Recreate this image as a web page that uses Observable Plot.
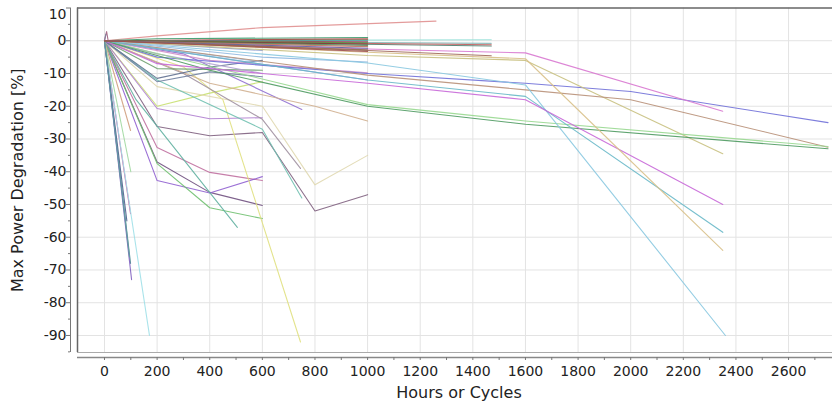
<!DOCTYPE html>
<html><head><meta charset="utf-8">
<script src="https://cdn.jsdelivr.net/npm/d3@7"></script>
<script src="https://cdn.jsdelivr.net/npm/@observablehq/plot@0.6"></script>
<style>body{margin:0;background:#fff;}</style>
</head><body><div id="chart"></div>
<script>
// ---- tick labels ----
const xTicks = [0,200,400,600,800,1000,1200,1400,1600,1800,2000,2200,2400,2600];
const xMinorTicks = [0,100,200,300,400,500,600,700,800,900,1000,1100,1200,1300,1400,1500,1600,1700,1800,1900,2000,2100,2200,2300,2400,2500,2600,2700];
const yTicks = [-90,-80,-70,-60,-50,-40,-30,-20,-10,0];
const yTopTick = [10];
const yMinorTicks = [-95,-85,-75,-65,-55,-45,-35,-25,-15,-5,5];

// ---- series: [hours, degradation %] points ----
const longRuns = [
  [[0,0],[200,-5],[1000,-10],[1600,-13],[2000,-15.5],[2750,-25]],
  [[0,0],[1000,-2.5],[1600,-3.7],[2350,-21.5]],
  [[0,0],[1000,-4.5],[1600,-6],[2350,-34.5]],
  [[0,0],[1000,-10.5],[1600,-15],[2000,-18],[2750,-32.5]],
  [[0,0],[1000,-19.5],[1600,-24.5],[2750,-32.3]],
  [[0,0],[400,-9],[1000,-20],[1600,-25.5],[2750,-33]],
  [[0,0],[1000,-6.8],[1600,-13.5],[2360,-90]],
  [[0,0],[1000,-12],[1600,-17],[2350,-58.5]],
  [[0,0],[200,-7],[1000,-13],[1600,-18],[2350,-50]],
  [[0,0],[1000,-3.5],[1600,-5.5],[2350,-64]]
];
const runsTo1470 = [
  [[0,0],[1470,0.3]],
  [[0,0],[1470,-0.8]],
  [[0,0],[1470,-1.6]],
  [[0,0],[1000,-3],[1470,-4.6]],
  [[0,0],[1470,-1.2]]
];
const band1000 = [
  [[0,0],[200,0.6],[1000,1.0]],
  [[0,0],[1000,0.6]],
  [[0,0],[1000,0.3]],
  [[0,0],[1000,0]],
  [[0,0],[1000,-0.3]],
  [[0,0],[1000,-0.6]],
  [[0,0],[1000,-1.0]],
  [[0,0],[1000,-1.4]],
  [[0,0],[1000,-1.8]],
  [[0,0],[1000,-2.3]],
  [[0,0],[1000,-2.8]],
  [[0,0],[1000,-3.3]]
];
const midRuns = [
  [[0,0],[400,-6],[1000,-9.8]],
  [[0,0],[1000,-12]],
  [[0,0],[600,-5],[1000,-6.5]],
  [[0,0],[600,-3]],
  [[0,0],[600,-6.5]],
  [[0,0],[200,-4],[600,-10]],
  [[0,0],[200,1.5],[600,4],[1260,6]]
];
const shortRuns = [
  [[0,0],[200,-20],[400,-16],[600,-12.5]],
  [[0,0],[200,-26.2],[400,-29],[600,-28],[800,-52],[1000,-47]],
  [[0,0],[200,-32.6],[400,-40.2],[600,-42.7]],
  [[0,0],[200,-37],[400,-46.3],[600,-50.3]],
  [[0,0],[200,-42.7],[400,-46.5],[600,-41.5]],
  [[0,0],[200,-37.5],[400,-51],[600,-54.3]],
  [[0,0],[120,-18],[505,-57]],
  [[0,0],[300,-8],[450,-18],[745,-92]],
  [[0,0],[200,-20.7],[400,-23.8],[600,-23.5]],
  [[0,0],[200,-14],[600,-20],[800,-44],[1000,-35]],
  [[0,0],[200,-12],[600,-27],[750,-48]],
  [[0,0],[300,-10],[600,-24],[745,-39]],
  [[0,0],[300,-4],[750,-21]],
  [[0,0],[400,-13],[800,-20],[1000,-24.5]],
  [[0,0],[200,-8.5],[600,-9]],
  [[0,0],[200,-11.5],[400,-8],[600,-6]],
  [[0,0],[200,-12.5],[400,-9.5],[600,-11]]
];
const steepRuns = [
  [[0,0],[99,-68]],
  [[0,0],[103,-73]],
  [[0,0],[99,-52.8]],
  [[0,0],[171,-90]],
  [[0,0],[99,-27.4]],
  [[0,0],[100,-40]],
  [[0,0],[85,-55]],
  [[0,0],[95,-66]],
  [[0,0],[8,2.8],[14,0]],
  [[0,0],[5,2]]
];

// ---- colours (styles kept apart from the data) ----
const longColors = ["#7070d8","#d878d0","#c8c080","#b89078","#98d890","#4e9a60","#88c8e0","#68b8c8","#c868d8","#d8c088"];
const colors1470 = ["#98e0d8","#88b8b8","#4f7f6f","#a06858","#c05a5a"];
const bandColors = ["#3a9a6a","#b04848","#8a5a40","#40a0a0","#a04060","#609040","#7a3a3a","#5a8a5a","#c07060","#6060a0","#907050","#a05050"];
const midColors = ["#d090c8","#a0a0e0","#90b8e0","#90a0d0","#a0c0e0","#b0a0d0","#e09090"];
const shortColors = ["#c8e070","#806080","#c070a0","#705080","#9060d0","#70c070","#60b0a0","#e0e080","#b080d0","#e0d8b0","#70c0b0","#a090a0","#9070d0","#d0b090","#70a070","#607090","#7080a0"];
const steepColors = ["#4a8a90","#8060c0","#d050a0","#a0e0e8","#d0a080","#a0d8a0","#506090","#60a0a0","#a06080","#8080a0"];

const groups = [
  [shortRuns, shortColors], [steepRuns, steepColors], [midRuns, midColors],
  [longRuns, longColors], [runsTo1470, colors1470], [band1000, bandColors]
];
const rows = [], ids = [], palette = [];
let k = 0;
for (const [runs, cols] of groups) {
  runs.forEach((run, i) => {
    const id = "s" + (k++);
    ids.push(id); palette.push(cols[i % cols.length]);
    for (const [h, v] of run) rows.push({id, hours: h, deg: v});
  });
}

const font = "DejaVu Sans";
const xDom = [-102.6, 2767], yDom = [-95.2, 10];

const chart = Plot.plot({
  width: 832, height: 404,
  marginLeft: 77, marginRight: 0, marginTop: 7.5, marginBottom: 52,
  style: {fontFamily: font, background: "#fff"},
  x: {domain: xDom}, y: {domain: yDom},
  color: {type: "ordinal", domain: ids, range: palette},
  marks: [
    Plot.ruleX(xTicks, {stroke: "#e3e3e3", strokeWidth: 1}),
    Plot.ruleY(yTicks, {stroke: "#e3e3e3", strokeWidth: 1}),
    Plot.line(rows, {x: "hours", y: "deg", z: "id", stroke: "id", strokeWidth: 1.1, strokeOpacity: 0.9}),
    // frame
    Plot.ruleY([yDom[1]], {stroke: "#666", strokeWidth: 1.5}),
    Plot.ruleX([xDom[0]], {stroke: "#666", strokeWidth: 1.5}),
    Plot.ruleY([yDom[0]], {stroke: "#aaa", strokeWidth: 1}),
    // detached axis lines
    Plot.ruleX([xDom[0]], {dx: -7, stroke: "#777", strokeWidth: 1}),
    Plot.ruleY([yDom[0]], {dy: 5, stroke: "#888", strokeWidth: 1.5}),
    // ticks
    Plot.axisY(yTicks.concat(yTopTick), {anchor: "left", tickSize: 4, dx: -7, tickFormat: () => "", label: null, stroke: "#777"}),
    Plot.axisY(yMinorTicks, {anchor: "left", tickSize: 2, dx: -7, tickFormat: () => "", label: null, stroke: "#777"}),
    Plot.axisX(xMinorTicks, {anchor: "bottom", tickSize: 3, dy: 5, tickFormat: () => "", label: null, stroke: "#777"}),
    // tick labels
    Plot.text(yTicks, {y: d => d, text: d => String(d), frameAnchor: "left", textAnchor: "end", dx: -11, fontSize: 14, fill: "#222"}),
    Plot.text(yTopTick, {y: d => d, text: d => String(d), frameAnchor: "left", textAnchor: "end", dx: -11, dy: 6.5, fontSize: 14, fill: "#222"}),
    Plot.text(xTicks, {x: d => d, text: d => String(d), frameAnchor: "bottom", dy: 23, fontSize: 14, fill: "#222"}),
    // axis titles
    Plot.text(["Hours or Cycles"], {frameAnchor: "bottom", textAnchor: "middle", dy: 45, dx: 4, fontSize: 16, fill: "#222"}),
    Plot.text(["Max Power Degradation [%]"], {frameAnchor: "left", textAnchor: "middle", dx: -60, rotate: -90, fontSize: 16, fill: "#222"})
  ]
});
document.getElementById("chart").appendChild(chart);
</script>
</body></html>
